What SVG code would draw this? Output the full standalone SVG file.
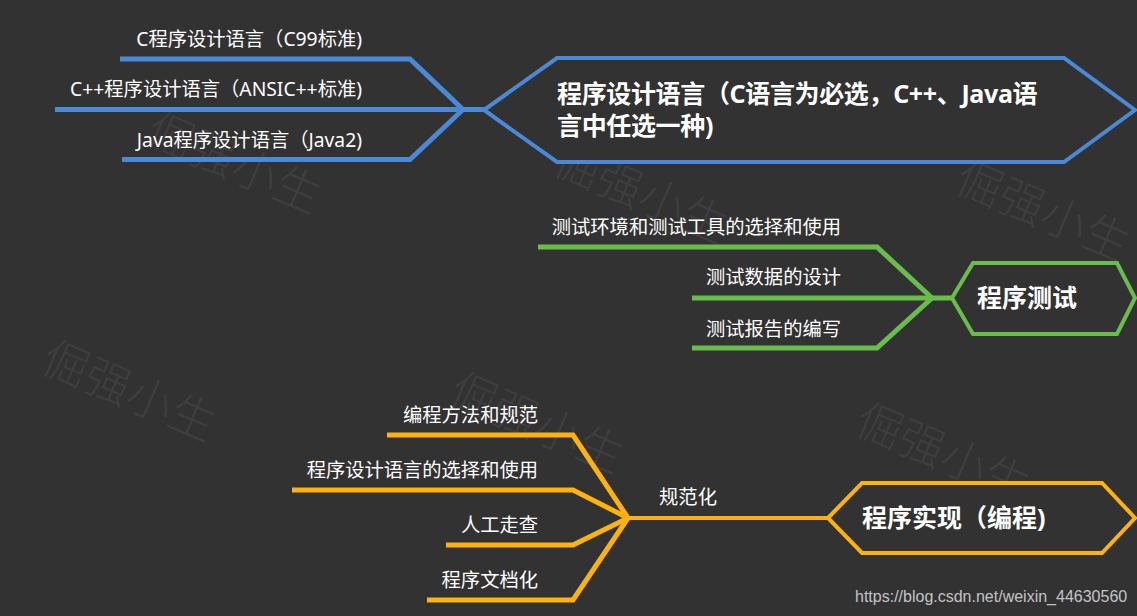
<svg xmlns="http://www.w3.org/2000/svg" width="1137" height="616" viewBox="0 0 1137 616">
<style>
.bg{fill:#323232}
.wm{font-family:"Noto Sans CJK SC",sans-serif;font-size:46px;fill:#ffffff;fill-opacity:0.075;font-weight:300}
.lbl{font-family:"Noto Sans","Noto Sans CJK SC",sans-serif;font-size:19.3px;fill:#ffffff}
.ttl{font-family:"Noto Sans","Noto Sans CJK SC",sans-serif;font-size:25px;font-weight:bold;fill:#ffffff}
.url{font-family:"Liberation Sans",Arial,sans-serif;font-size:16px;fill:#c4c4c4}
.blue{stroke:#4a88d8;fill:none}
.green{stroke:#69bd4a;fill:none}
.orange{stroke:#fdb20d;fill:none}
.br{stroke-width:5;stroke-linejoin:miter;stroke-linecap:butt}
.hex{stroke-width:4;fill:#323232;stroke-linejoin:miter}
</style>
<rect class="bg" x="0" y="0" width="1137" height="616"/>
<g id="watermarks">
<text class="wm" transform="translate(143,142) rotate(23)">倔强小生</text>
<text class="wm" transform="translate(550,172) rotate(23)">倔强小生</text>
<text class="wm" transform="translate(952,190) rotate(23)">倔强小生</text>
<text class="wm" transform="translate(38,370) rotate(23)">倔强小生</text>
<text class="wm" transform="translate(446,402) rotate(23)">倔强小生</text>
<text class="wm" transform="translate(852,432) rotate(23)">倔强小生</text>
</g>
<g id="connectors">
<polyline class="blue br" points="120,59 410,59 463,109.5"/>
<polyline class="blue br" points="55,109.5 486,109.5"/>
<polyline class="blue br" points="122,159.5 410,159.5 463,109.5"/>
<polyline class="green br" points="538,247 877,247 932,298"/>
<polyline class="green br" points="692,298 954,298"/>
<polyline class="green br" points="692,348 877,348 932,298"/>
<polyline class="orange br" points="387,435 573,435 628,518"/>
<polyline class="orange br" points="292,490 573,490 628,518"/>
<polyline class="orange br" points="446,545 573,545 628,518"/>
<polyline class="orange br" points="427,600 573,600 628,518"/>
<polyline class="orange br" style="stroke-width:4" points="628,518 830,518"/>
</g>
<g id="node-blue-c"><text class="lbl" x="362" y="46" text-anchor="end">C程序设计语言（C99标准)</text></g>
<g id="node-blue-cpp"><text class="lbl" x="362" y="96" text-anchor="end">C++程序设计语言（ANSIC++标准)</text></g>
<g id="node-blue-java"><text class="lbl" x="362" y="147" text-anchor="end">Java程序设计语言（Java2)</text></g>
<g id="node-lang">
<polygon class="blue hex" points="484,110 557,58 1064,58 1135,110 1064,162 557,162"/>
<text class="ttl" x="557" y="103" letter-spacing="-0.35">程序设计语言（C语言为必选，C++、Java语</text>
<text class="ttl" x="557" y="135" letter-spacing="-0.35">言中任选一种)</text>
</g>
<g id="node-test-env"><text class="lbl" x="841" y="234" text-anchor="end">测试环境和测试工具的选择和使用</text></g>
<g id="node-test-data"><text class="lbl" x="841" y="284" text-anchor="end">测试数据的设计</text></g>
<g id="node-test-report"><text class="lbl" x="841" y="336" text-anchor="end">测试报告的编写</text></g>
<g id="node-test">
<polygon class="green hex" points="952,298 973,263 1117,263 1135,298 1117,334 973,334"/>
<text class="ttl" x="977" y="307">程序测试</text>
</g>
<g id="node-method"><text class="lbl" x="538" y="422" text-anchor="end">编程方法和规范</text></g>
<g id="node-choose"><text class="lbl" x="538" y="477" text-anchor="end">程序设计语言的选择和使用</text></g>
<g id="node-walk"><text class="lbl" x="538" y="532" text-anchor="end">人工走查</text></g>
<g id="node-doc"><text class="lbl" x="538" y="587" text-anchor="end">程序文档化</text></g>
<g id="node-norm"><text class="lbl" x="688" y="504" text-anchor="middle">规范化</text></g>
<g id="node-impl">
<polygon class="orange hex" points="828,518 862,483 1102,483 1135,518 1102,553 862,553"/>
<text class="ttl" x="862" y="527">程序实现（编程)</text>
</g>
<text class="url" x="855" y="602">https://blog.csdn.net/weixin_44630560</text>
</svg>
